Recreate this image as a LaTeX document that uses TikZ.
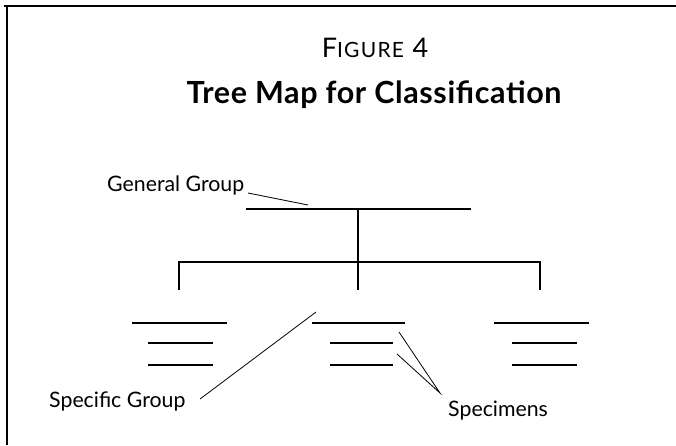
\documentclass[tikz,border=0pt]{standalone}
\usepackage{fontspec}
\setmainfont{Lato}
\tikzset{
  lbl/.style={font=\fontsize{21.3}{24}\selectfont, inner sep=0pt},
  frameline/.style={line width=1.4pt},
  branch/.style={line width=1.7pt},
  grouptop/.style={line width=1.9pt},
  groupsub/.style={line width=1.1pt},
  leader/.style={line width=0.8pt}
}
\begin{document}
\begin{tikzpicture}[x=1pt,y=-1pt]
\useasboundingbox (0,0) rectangle (676,445);
% frame
\coordinate (ftl) at (4,6);
\coordinate (ftr) at (676,6);
\coordinate (flt) at (7,6);
\coordinate (flb) at (7,445);
\draw[frameline] (ftl) -- (ftr);
\draw[frameline] (flt) -- (flb);
% titles
\node[inner sep=0pt, anchor=base] (fig) at (375,57)
  {\addfontfeature{LetterSpace=6}\fontsize{27}{30}\selectfont F\fontsize{21}{30}\selectfont IGURE\fontsize{27}{30}\selectfont\ 4};
\node[inner sep=0pt, anchor=base] (title) at (374,103)
  {\bfseries\addfontfeature{LetterSpace=2}\fontsize{30.5}{34}\selectfont Tree Map for Classification};
% tree
\coordinate (g1) at (246,209);
\coordinate (g2) at (471,209);
\coordinate (gm) at (358,209);
\coordinate (bl) at (179,262);
\coordinate (bm) at (358,262);
\coordinate (br) at (540,262);
\coordinate (bl2) at (179,290);
\coordinate (bm2) at (358,290);
\coordinate (br2) at (540,290);
\draw[branch] (g1) -- (g2);
\draw[branch] (gm) -- (bm2);
\draw[branch] (bl2) -- (bl) -- (br) -- (br2);
% groups: top line x1/x2, sub lines x1/x2
\foreach \n/\ta/\tb/\sa/\sb in {L/132/227/148/213, C/312/405/330/393, R/494/589/512/577}{
  \coordinate (\n t1) at (\ta,323);
  \coordinate (\n t2) at (\tb,323);
  \coordinate (\n a1) at (\sa,343);
  \coordinate (\n a2) at (\sb,343);
  \coordinate (\n b1) at (\sa,365);
  \coordinate (\n b2) at (\sb,365);
  \draw[grouptop] (\n t1) -- (\n t2);
  \draw[groupsub] (\n a1) -- (\n a2);
  \draw[groupsub] (\n b1) -- (\n b2);
}
% labels
\node[lbl, anchor=base west] (gen) at (107,191) {General Group};
\node[lbl, anchor=base west] (spec) at (49,407) {Specific Group};
\node[lbl, anchor=base west] (specm) at (448,416) {Specimens};
\coordinate (genE) at (248,193);
\coordinate (genT) at (308,205);
\coordinate (specE) at (200,399);
\coordinate (specT) at (316,312);
\coordinate (smE) at (440,393);
\coordinate (smT1) at (399,332);
\coordinate (smT2) at (397,354);
\draw[leader] (genE) -- (genT);
\draw[leader] (specE) -- (specT);
\draw[leader] (smT1) -- (smE) -- (smT2);
\end{tikzpicture}
\end{document}
